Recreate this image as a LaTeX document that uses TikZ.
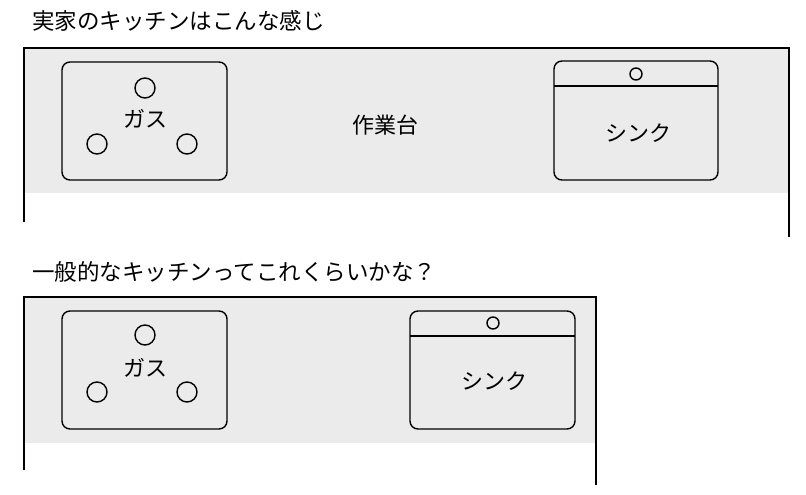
\documentclass[tikz,border=0pt]{standalone}
\usepackage{fontspec}
\setmainfont{Noto Sans CJK JP}
\begin{document}
\begin{tikzpicture}[x=1pt,y=-1pt,
  counter/.style={fill=black!8,draw=none},
  edge/.style={line width=1.4pt},
  unit/.style={draw,line width=1.4pt,rounded corners=8pt},
  knob/.style={draw,line width=1.4pt,circle,minimum size=20pt,inner sep=0},
  tap/.style={draw,line width=1.4pt,circle,minimum size=12pt,inner sep=0},
  lbl/.style={font=\fontsize{22pt}{24pt}\selectfont},
  title/.style={font=\fontsize{22.5pt}{24pt}\selectfont,anchor=west,inner sep=0}]
\useasboundingbox[fill=white] (0,0) rectangle (806,495);
% top
\node[title] (t1) at (32,21) {実家のキッチンはこんな感じ};
\fill[counter] (24,48) rectangle (789,193);
\draw[edge] (24,222) -- (24,48) -- (789,48) -- (789,237);
\draw[unit] (62,62) rectangle (227,180);
\node[knob] (k1) at (145,88) {};
\node[knob] (k2) at (97,144) {};
\node[knob] (k3) at (187,144) {};
\node[lbl] (g1) at (145,119) {ガス};
\node[lbl] (w1) at (385,125) {作業台};
\draw[unit] (554,61) rectangle (718,180);
\draw[edge] (554,86) -- (718,86);
\node[tap] (s1) at (636,74) {};
\node[lbl] (n1) at (638,133) {シンク};
% bottom
\node[title] (t2) at (32,272) {一般的なキッチンってこれくらいかな？};
\fill[counter] (24,297) rectangle (596,443);
\draw[edge] (24,470) -- (24,297) -- (596,297) -- (596,485);
\draw[unit] (62,311) rectangle (227,429);
\node[knob] (k4) at (145,335) {};
\node[knob] (k5) at (97,392) {};
\node[knob] (k6) at (187,392) {};
\node[lbl] (g2) at (145,368) {ガス};
\draw[unit] (410,311) rectangle (575,429);
\draw[edge] (410,336) -- (575,336);
\node[tap] (s2) at (493,323) {};
\node[lbl] (n2) at (494,381) {シンク};
\end{tikzpicture}
\end{document}
